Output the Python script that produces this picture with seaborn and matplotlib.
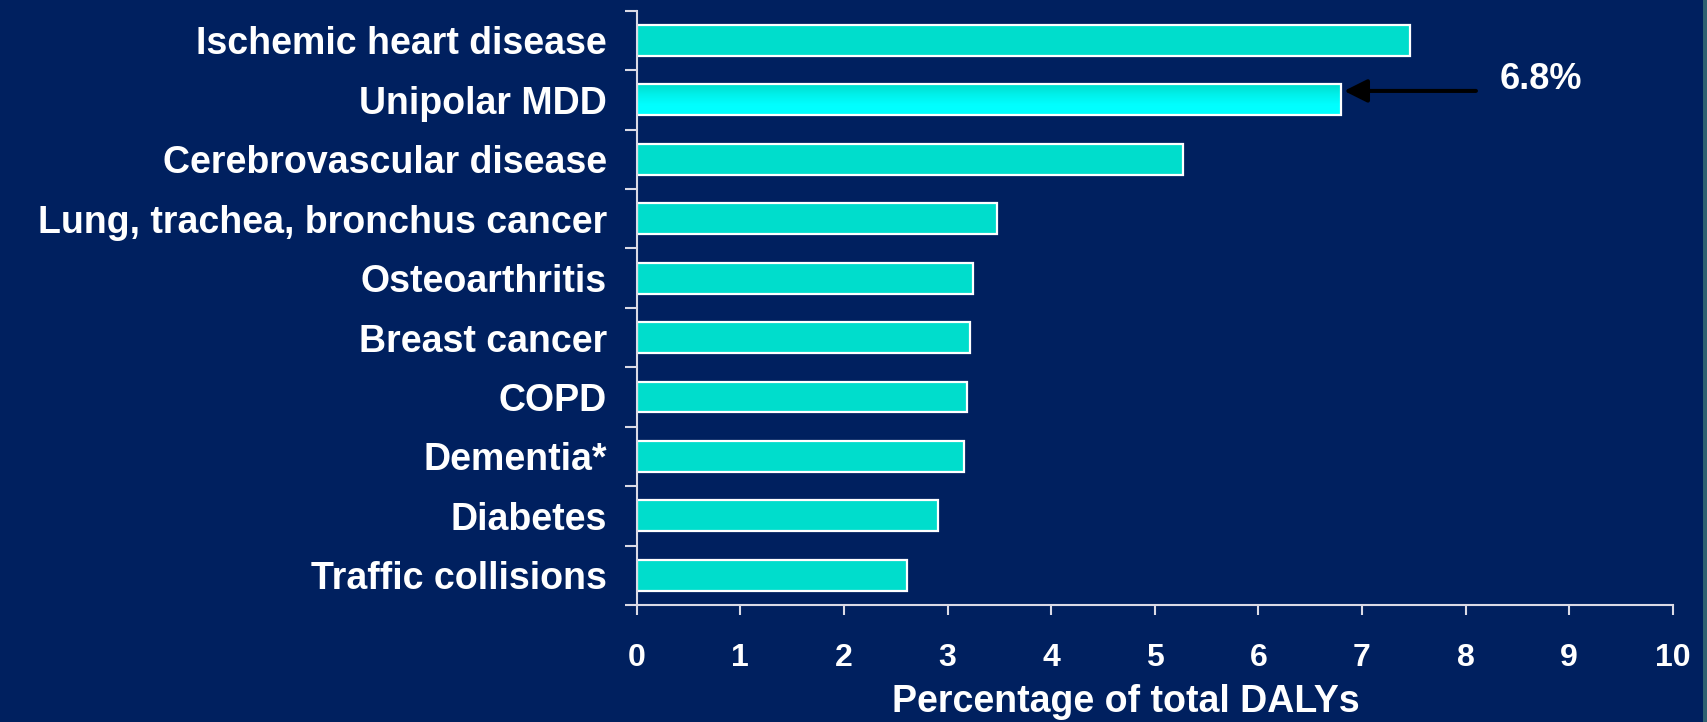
import numpy as np
import pandas as pd
import matplotlib
matplotlib.use("Agg")
import matplotlib.pyplot as plt
import seaborn as sns
from matplotlib.colors import LinearSegmentedColormap
from matplotlib.patches import Rectangle

# Share of total DALYs by condition
conditions = [
    "Ischemic heart disease",
    "Unipolar MDD",
    "Cerebrovascular disease",
    "Lung, trachea, bronchus cancer",
    "Osteoarthritis",
    "Breast cancer",
    "COPD",
    "Dementia*",
    "Diabetes",
    "Traffic collisions",
]
daly_pct = [7.46, 6.8, 5.27, 3.48, 3.25, 3.22, 3.19, 3.16, 2.91, 2.61]
x_ticks = list(range(0, 11))
highlight = "Unipolar MDD"
x_label = "Percentage of total DALYs"

navy = "#00205F"
teal = "#00DDCC"
cyan = "#00FFFF"
axis_grey = "#DADAE6"

sns.set_theme(style="white")
plt.rcParams["font.family"] = ["Liberation Sans", "DejaVu Sans"]
plt.rcParams["font.weight"] = "bold"

fig = plt.figure(figsize=(17.08, 7.22), dpi=100, facecolor=navy)
ax = fig.add_axes([0.3728, 0.162, 0.6066, 0.8232])
ax.set_facecolor(navy)

df = pd.DataFrame({"condition": conditions, "pct": daly_pct})
sns.barplot(data=df, x="pct", y="condition", orient="h", color=teal,
            saturation=1, width=0.52, edgecolor="white", linewidth=1.6,
            ax=ax)

# vertical gradient fill on the highlighted bar
idx = conditions.index(highlight)
bar = ax.patches[idx]
x0, y0 = bar.get_x(), bar.get_y()
w, h = bar.get_width(), bar.get_height()
cmap = LinearSegmentedColormap.from_list("mdd", [teal, "#00F0EA", cyan, cyan])
grad = np.linspace(0, 1, 256).reshape(-1, 1)
im = ax.imshow(grad, cmap=cmap, extent=(x0, x0 + w, y0 + h, y0),
               origin="upper", aspect="auto", interpolation="bicubic",
               zorder=bar.get_zorder() - 0.1)
im.set_clip_path(bar)
bar.set_facecolor("none")

ax.set_xlim(0, 10)
ax.set_ylim(len(conditions) - 0.5, -0.5)
ax.set_xticks(x_ticks)
ax.set_xticklabels([str(t) for t in x_ticks])
ax.set_yticks(np.arange(-0.5, len(conditions)), minor=True)

for side in ("top", "right"):
    ax.spines[side].set_visible(False)
for side in ("left", "bottom"):
    ax.spines[side].set_color(axis_grey)
    ax.spines[side].set_linewidth(1.5)

ax.tick_params(axis="y", which="major", left=False, length=0, pad=21.5,
               labelsize=27, labelcolor="white")
ax.tick_params(axis="y", which="minor", left=True, length=8.6, width=1.5,
               color=axis_grey)
ax.tick_params(axis="x", which="major", bottom=True, length=7.2, width=1.5,
               color=axis_grey, pad=20, labelsize=23, labelcolor="white")

ax.set_ylabel("")
ax.set_xlabel(x_label, fontsize=27, color="white", fontweight="bold")
ax.xaxis.set_label_coords(0.472, -0.180)
ax.xaxis.label.set_va("baseline")

# call-out arrow and value for the highlighted bar
val = daly_pct[idx]
ax.annotate("", xy=(val, idx - 0.15), xytext=(val + 1.30, idx - 0.15),
            arrowprops=dict(arrowstyle="-|>,head_length=1.4,head_width=0.7",
                            color="black", lw=2.9, shrinkA=0, shrinkB=2,
                            mutation_scale=10))
ax.text(val + 1.53, idx - 0.337, f"{val:.1f}%", fontsize=26, color="white",
        fontweight="bold", ha="left", va="center")

# slide border strip on the right edge
fig.add_artist(Rectangle((1703 / 1708, 0), 5 / 1708, 1,
                         transform=fig.transFigure, color="#2E6070", lw=0))

fig.savefig("out.png", dpi=100, facecolor=navy)
